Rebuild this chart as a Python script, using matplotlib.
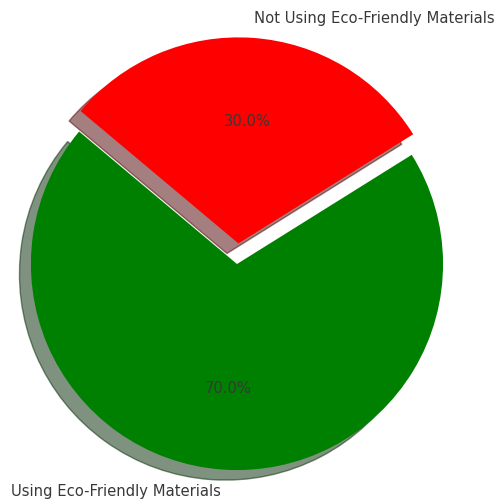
import matplotlib
matplotlib.use('Agg')
import matplotlib.pyplot as plt

# data
labels = ['Using Eco-Friendly Materials', 'Not Using Eco-Friendly Materials']
shares = [70, 30]
colors = ['green', 'red']
explode = [0, 0.1]

fig = plt.figure(figsize=(4.96, 5.02), dpi=100)
ax = fig.add_axes([0, 0, 1, 1])

wedges, texts, autotexts = ax.pie(shares, labels=labels, colors=colors, explode=explode,
                                  autopct='%1.1f%%', startangle=140,
                                  shadow={'ox': -0.04, 'oy': -0.035},
                                  textprops={'fontsize': 10.6, 'color': '#383838'})

ax.set_aspect('equal')
ax.set_xlim(-1.150, 1.257)
ax.set_ylim(-1.150, 1.286)
ax.axis('off')

fig.savefig('out.png', dpi=100)
